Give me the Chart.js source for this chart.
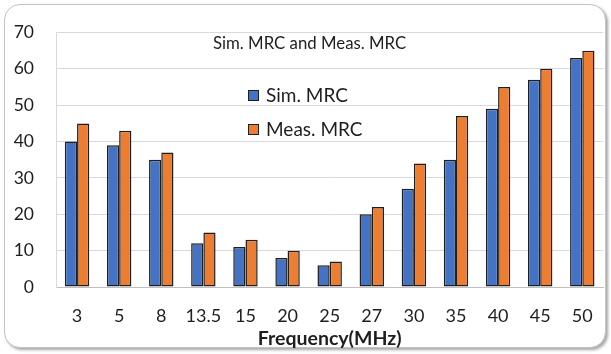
<!DOCTYPE html>
<html>
<head>
<meta charset="utf-8">
<script src="https://cdn.jsdelivr.net/npm/chart.js@4"></script>
<style>
  body { margin: 0; background: #fff; }
  #wrap { position: relative; width: 611px; height: 354px; }
  #frame { position: absolute; left: 4px; top: 4px; width: 600px; height: 342px;
           border: 1px solid #c4c4c4; border-radius: 16px;
           box-shadow: 2px 2px 3px rgba(0,0,0,0.35); background: #fff; }
  #chart { position: absolute; left: 0; top: 0; }
</style>
</head>
<body>
<div id="wrap">
  <div id="frame"></div>
  <canvas id="chart" width="611" height="354"></canvas>
</div>
<script>
// chart data
var frequencies = ['3', '5', '8', '13.5', '15', '20', '25', '27', '30', '35', '40', '45', '50'];
var simMRC = [40, 39, 35, 12, 11, 8, 6, 20, 27, 35, 49, 57, 63];
var measMRC = [45, 43, 37, 15, 13, 10, 7, 22, 34, 47, 55, 60, 65];
var chartTitle = 'Sim. MRC and Meas. MRC';
var seriesNames = ['Sim. MRC', 'Meas. MRC'];
var seriesColors = ['#4472C4', '#ED7D31'];

var FONT = 'Lato, "Open Sans", sans-serif';
var TEXT = '#1e1e1e';

var chart_mrc = new Chart(document.getElementById('chart'), {
    type: 'bar',
    data: {
        labels: frequencies,
        datasets: [
            {
                label: seriesNames[0],
                data: simMRC,
                backgroundColor: seriesColors[0],
                borderColor: '#1f1f1f',
                borderWidth: 1.5,
                borderSkipped: false
            },
            {
                label: seriesNames[1],
                data: measMRC,
                backgroundColor: seriesColors[1],
                borderColor: '#1f1f1f',
                borderWidth: 1.5,
                borderSkipped: false
            }
        ]
    },
    options: {
        animation: false,
        responsive: false,
        categoryPercentage: 0.58,
        barPercentage: 1.0,
        layout: { padding: { left: 0, right: 7, top: 19, bottom: 0 } },
        plugins: {
            legend: { display: false },
            title: { display: false },
            tooltip: { enabled: false }
        },
        scales: {
            x: {
                grid: { display: false, drawTicks: false },
                border: { display: true, color: '#bfbfbf' },
                ticks: { color: TEXT, font: { family: FONT, size: 18 }, padding: 18, maxRotation: 0 },
                title: {
                    display: true,
                    text: 'Frequency(MHz)',
                    color: TEXT,
                    font: { family: FONT, size: 19.5, weight: 'bold' },
                    padding: { top: 0, bottom: 4 }
                },
                afterFit: function (scale) { scale.height = 67; }
            },
            y: {
                min: 0,
                max: 70,
                ticks: { stepSize: 10, color: TEXT, font: { family: FONT, size: 17.5 }, padding: 22 },
                grid: { color: '#d9d9d9', drawTicks: false },
                border: { display: true, color: '#d9d9d9' },
                afterFit: function (scale) { scale.width = 56; }
            }
        }
    },
    plugins: [{
        id: 'insideTitleLegend',
        afterDatasetsDraw: function (chart) {
            var ctx = chart.ctx;
            ctx.save();
            ctx.fillStyle = TEXT;
            ctx.textBaseline = 'middle';
            ctx.textAlign = 'left';
            ctx.font = '16.8px ' + FONT;
            ctx.fillText(chartTitle, 213, 44);
            ctx.font = '19px ' + FONT;
            var ys = [96, 130];
            for (var i = 0; i < seriesNames.length; i++) {
                ctx.fillStyle = seriesColors[i];
                ctx.fillRect(248, ys[i] - 6, 11, 11);
                ctx.strokeStyle = '#1f1f1f';
                ctx.lineWidth = 1;
                ctx.strokeRect(248.5, ys[i] - 5.5, 10, 10);
                ctx.fillStyle = TEXT;
                ctx.fillText(seriesNames[i], 266, ys[i]);
            }
            ctx.restore();
        }
    }]
});
</script>
</body>
</html>
